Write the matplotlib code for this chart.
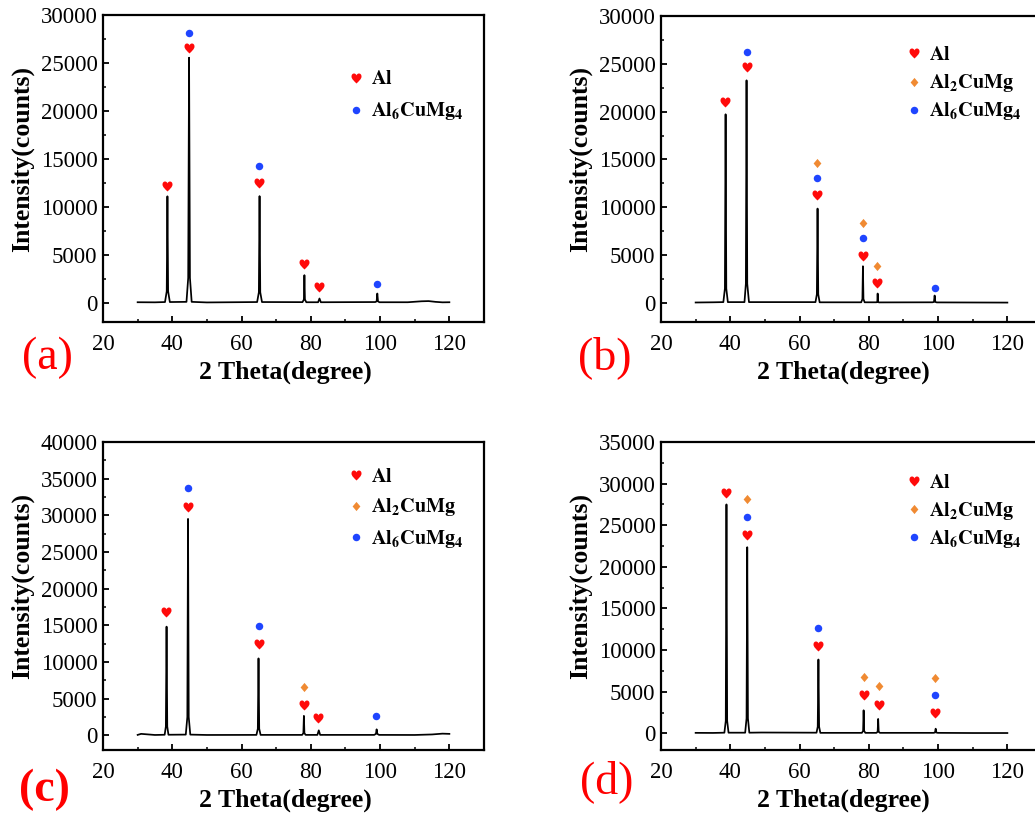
import matplotlib
matplotlib.use("Agg")
import matplotlib.pyplot as plt
from matplotlib.path import Path
from matplotlib.ticker import MultipleLocator

plt.rcParams['font.family'] = ['Liberation Serif', 'DejaVu Serif']
plt.rcParams['mathtext.fontset'] = 'stix'

# ---------------- data ----------------
# panel (a)
a_theta = [30, 35, 37.9, 38.4, 38.6, 38.8, 39.3, 44.1, 44.6, 44.85, 45.1, 45.6, 50,
           64.5, 65.0, 65.2, 65.4, 65.9, 77.6, 78.0, 78.15, 78.3, 78.7, 82.1, 82.5, 82.9,
           98.6, 99.0, 99.2, 99.4, 99.8, 108, 112, 114, 116, 118, 120]
a_int = [60, 50, 80, 1200, 11100, 1200, 80, 100, 2600, 25550, 2600, 100, 40,
         80, 1100, 11120, 1100, 80, 70, 350, 2880, 350, 60, 60, 450, 60,
         80, 150, 970, 150, 60, 60, 160, 180, 100, 50, 60]
a_marks_al = ([38.6, 44.8, 65.1, 78.0, 82.4], [12200, 26600, 12500, 4050, 1600])
a_marks_al2 = ([], [])
a_marks_al6 = ([44.8, 65.1, 99.2], [28150, 14300, 1950])

# panel (b)
b_theta = [30, 35, 38.0, 38.45, 38.65, 38.85, 39.3, 44.1, 44.5, 44.7, 44.9, 45.4, 48,
           64.6, 65.0, 65.2, 65.4, 65.8, 77.8, 78.15, 78.3, 78.45, 78.8, 82.2, 82.45,
           82.55, 82.65, 82.9, 98.4, 98.8, 99.0, 99.2, 99.6, 110, 120]
b_int = [40, 60, 80, 1500, 19720, 1500, 80, 80, 2000, 23270, 2000, 80, 80,
         80, 900, 9860, 900, 60, 60, 400, 3830, 400, 60, 60, 120,
         975, 120, 50, 60, 100, 770, 100, 50, 40, 30]
b_marks_al = ([38.6, 44.75, 65.1, 78.3, 82.5], [21000, 24650, 11300, 4950, 2120])
b_marks_al2 = ([65.1, 78.3, 82.5], [14600, 8330, 3830])
b_marks_al6 = ([44.75, 65.1, 78.3, 99.0], [26200, 13030, 6760, 1530])

# panel (c)
c_theta = [30, 31, 35, 37.8, 38.15, 38.35, 38.55, 38.9, 43.9, 44.35, 44.55, 44.75, 45.2, 50,
           64.3, 64.7, 64.9, 65.1, 65.5, 77.5, 77.85, 78.0, 78.15, 78.5, 81.9, 82.3, 82.7,
           98.3, 98.8, 99.0, 99.2, 99.7, 110, 115, 118, 120]
c_int = [60, 200, 50, 80, 1200, 14820, 1200, 80, 100, 2500, 29510, 2500, 100, 50,
         60, 900, 10490, 900, 60, 60, 300, 2650, 300, 60, 60, 680, 60,
         60, 200, 820, 200, 60, 50, 120, 230, 200]
c_marks_al = ([38.3, 44.5, 65.0, 78.0, 82.2], [16800, 31150, 12400, 4100, 2330])
c_marks_al2 = ([78.0], [6610])
c_marks_al6 = ([44.5, 65.0, 98.8], [33700, 14870, 2650])

# panel (d)
d_theta = [30, 35, 38.3, 38.7, 38.9, 39.1, 39.5, 44.3, 44.7, 44.9, 45.1, 45.5, 49,
           64.9, 65.25, 65.45, 65.65, 66.0, 78.0, 78.35, 78.5, 78.65, 79.0, 82.2, 82.55,
           82.7, 82.85, 83.2, 98.7, 99.1, 99.3, 99.5, 99.9, 110, 120]
d_int = [60, 50, 80, 1500, 27500, 1500, 80, 80, 1800, 22360, 1800, 80, 100,
         80, 800, 8870, 800, 60, 60, 300, 2770, 300, 60, 60, 200,
         1730, 200, 60, 60, 100, 560, 100, 60, 40, 40]
d_marks_al = ([38.8, 44.9, 65.3, 78.5, 82.8, 99.2], [28900, 23880, 10520, 4580, 3370, 2450])
d_marks_al2 = ([44.8, 78.5, 82.8, 99.1], [28140, 6820, 5660, 6660])
d_marks_al6 = ([44.8, 65.3, 99.2], [26050, 12600, 4580])

panel_letters = ['(a)', '(b)', '(c)', '(d)']
y_tops = [30000, 30000, 40000, 35000]
phase_names = [r'$\mathbf{Al}$', r'$\mathbf{Al_2CuMg}$', r'$\mathbf{Al_6CuMg_4}$']
x_ticks = [20, 40, 60, 80, 100, 120]

# ---------------- styles ----------------
heart = Path(
    [(0, -1), (-0.5, -0.5), (-1.0, -0.1), (-1.0, 0.4),
     (-1.0, 0.8), (-0.75, 1.0), (-0.5, 1.0),
     (-0.25, 1.0), (0, 0.8), (0, 0.55),
     (0, 0.8), (0.25, 1.0), (0.5, 1.0),
     (0.75, 1.0), (1.0, 0.8), (1.0, 0.4),
     (1.0, -0.1), (0.5, -0.5), (0, -1), (0, -1)],
    [Path.MOVETO, Path.CURVE4, Path.CURVE4, Path.CURVE4,
     Path.CURVE4, Path.CURVE4, Path.CURVE4,
     Path.CURVE4, Path.CURVE4, Path.CURVE4,
     Path.CURVE4, Path.CURVE4, Path.CURVE4,
     Path.CURVE4, Path.CURVE4, Path.CURVE4,
     Path.CURVE4, Path.CURVE4, Path.CURVE4, Path.CLOSEPOLY])
diamond = Path([(0, 1), (0.85, 0), (0, -1), (-0.85, 0), (0, 1)],
               [Path.MOVETO, Path.LINETO, Path.LINETO, Path.LINETO, Path.CLOSEPOLY])

RED = '#FF0A0A'
ORANGE = '#F08A32'
BLUE = '#1F45FF'
styles = [dict(marker=heart, color=RED, ms=7.2),
          dict(marker=diamond, color=ORANGE, ms=6.6),
          dict(marker='o', color=BLUE, ms=5.4)]

fig = plt.figure(figsize=(10.35, 8.16), dpi=100)
W, H = 1035, 816
boxes = [(103, 15, 381, 307), (661, 16, 381, 306), (103, 442, 381, 308), (661, 442, 381, 308)]
letter_pos = [(47, 358, 'normal'), (605, 358, 'normal'), (44, 790, 'bold'), (607, 782, 'normal')]
# legend marker column x and row y positions (figure pixels)
legend_rows = [(356, [78, 110]), (914, [53, 82, 110]), (356, [475, 506, 537]), (914, [481, 509, 537])]

panels = [
    (a_theta, a_int, a_marks_al, a_marks_al2, a_marks_al6, False),
    (b_theta, b_int, b_marks_al, b_marks_al2, b_marks_al6, True),
    (c_theta, c_int, c_marks_al, c_marks_al2, c_marks_al6, True),
    (d_theta, d_int, d_marks_al, d_marks_al2, d_marks_al6, True),
]

for i, (theta, inten, m_al, m_al2, m_al6, has_al2) in enumerate(panels):
    l, t, w, h = boxes[i]
    ax = fig.add_axes([l / W, (H - t - h) / H, w / W, h / H])
    ax.plot(theta, inten, color='black', lw=1.25, zorder=2)
    for (mx, my), st in zip([m_al, m_al2, m_al6], styles):
        if len(mx):
            ax.plot(mx, my, ls='none', marker=st['marker'], color=st['color'],
                    ms=st['ms'], mec='none', zorder=3)
    ax.set_xlim(20, 130)
    ax.set_ylim(-2000, y_tops[i])
    ax.set_xticks(x_ticks)
    ax.xaxis.set_minor_locator(MultipleLocator(10))
    ax.yaxis.set_major_locator(MultipleLocator(5000))
    ax.yaxis.set_minor_locator(MultipleLocator(2500))
    ax.tick_params(which='major', direction='in', length=4.5, width=1.3,
                   labelsize=16.5, top=False, right=False)
    ax.tick_params(axis='x', which='major', pad=8.5)
    ax.tick_params(axis='y', which='major', pad=4)
    ax.tick_params(which='minor', direction='in', length=2.5, width=1.1,
                   top=False, right=False)
    for sp in ax.spines.values():
        sp.set_linewidth(1.6)
    ax.set_xlabel('2 Theta(degree)', fontsize=18.5, fontweight='bold')
    ax.set_ylabel('Intensity(counts)', fontsize=18.5, fontweight='bold')
    ax.xaxis.set_label_coords(0.5 - 8.5 / w, -39 / h)
    ax.yaxis.set_label_coords(-(103 - 34) / w, 0.5 + 10 / h)

    # legend (manual placement)
    lx, rows = legend_rows[i]
    names = phase_names if has_al2 else [phase_names[0], phase_names[2]]
    sts = styles if has_al2 else [styles[0], styles[2]]
    for st, nm, ry in zip(sts, names, rows):
        fx, fy = lx / W, 1 - ry / H
        ax.plot([fx], [fy], transform=fig.transFigure, ls='none', marker=st['marker'],
                color=st['color'], ms=st['ms'], mec='none', clip_on=False)
        fig.text((lx + 15) / W, 1 - (ry + 6.5) / H, nm, fontsize=14.5,
                 ha='left', va='baseline')

    px, py, fw = letter_pos[i]
    fig.text(px / W, 1 - py / H, panel_letters[i], color='#FF0000', fontsize=33,
             fontweight=fw, ha='center', va='center')

fig.savefig('out.png', dpi=100)
